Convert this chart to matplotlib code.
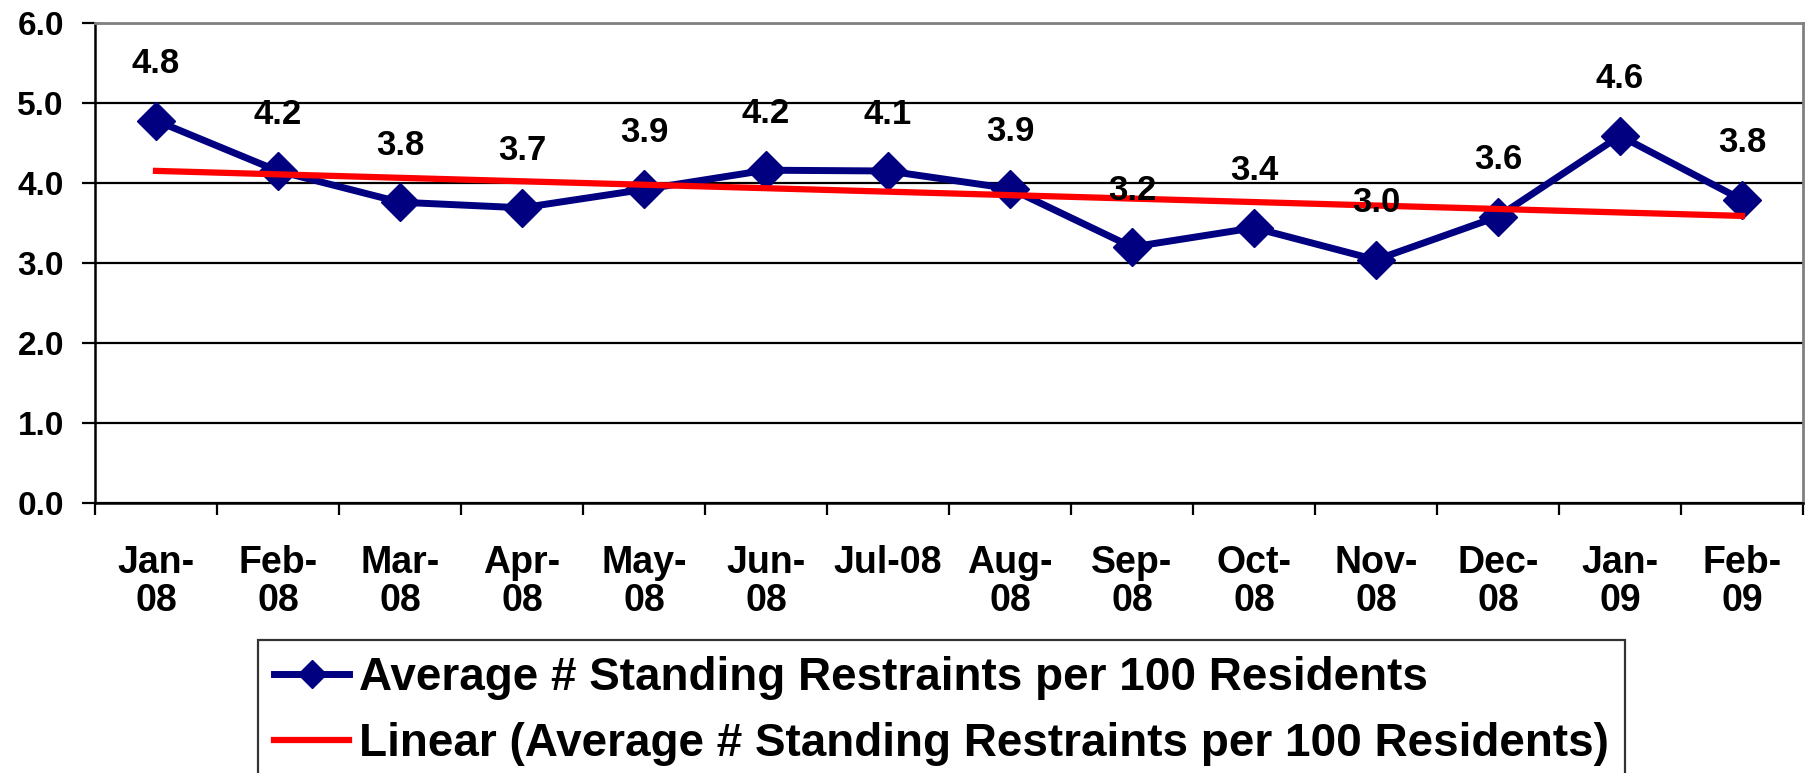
import numpy as np
import matplotlib
matplotlib.use("Agg")
import matplotlib.pyplot as plt

# -------------------------------
# Data
# -------------------------------
months = ["Jan-\n08", "Feb-\n08", "Mar-\n08", "Apr-\n08", "May-\n08", "Jun-\n08", "Jul-08",
          "Aug-\n08", "Sep-\n08", "Oct-\n08", "Nov-\n08", "Dec-\n08", "Jan-\n09", "Feb-\n09"]
restraints = [4.78, 4.15, 3.76, 3.69, 3.92, 4.16, 4.15, 3.93, 3.20, 3.44, 3.04, 3.58, 4.59, 3.79]
point_labels = ["4.8", "4.2", "3.8", "3.7", "3.9", "4.2", "4.1", "3.9", "3.2", "3.4", "3.0", "3.6", "4.6", "3.8"]
series_name = "Average # Standing Restraints per 100 Residents"

plt.rcParams["font.family"] = ["Liberation Sans", "DejaVu Sans"]
plt.rcParams["font.weight"] = "bold"

# linear trend of the series (Excel-style trendline)
x = np.arange(len(months))
slope, intercept = np.polyfit(x, restraints, 1)
trend = slope * x + intercept

fig = plt.figure(figsize=(18.11, 7.73), dpi=100)
ax = fig.add_axes([95 / 1811, 1 - 503 / 773, 1708 / 1811, 480 / 773])

ax.plot(x, restraints, color="#000080", lw=5, marker="D", ms=19, zorder=3, label=series_name)
ax.plot(x, trend, color="#ff0000", lw=4.5, zorder=4, label="Linear (" + series_name + ")")

# data labels above each point
for xi, yi, lab in zip(x, restraints, point_labels):
    ax.annotate(lab, (xi, yi), xytext=(0, 41), textcoords="offset points",
                ha="center", va="center", fontsize=25, fontweight="bold", zorder=6)

# -------------------------------
# Axes styling
# -------------------------------
ax.set_xlim(-0.5, len(months) - 0.5)
ax.set_ylim(0, 6)
ax.set_yticks(np.arange(0, 7, 1))
ax.set_yticklabels([f"{v:.1f}" for v in np.arange(0, 7, 1)], fontsize=24, fontweight="bold")
ax.yaxis.grid(True, color="black", lw=1.6, zorder=0)
ax.set_axisbelow(True)
ax.tick_params(axis="y", direction="out", length=9.4, width=1.6, pad=13)

ax.set_xticks(x)
ax.set_xticklabels(months, fontsize=27, fontweight="bold", va="top", linespacing=1.08)
ax.tick_params(axis="x", which="major", length=0, pad=30)
ax.set_xticks(np.arange(-0.5, len(months), 1), minor=True)
ax.tick_params(axis="x", which="minor", direction="out", length=8.6, width=1.6)

for side in ["left", "bottom"]:
    ax.spines[side].set_color("black")
    ax.spines[side].set_linewidth(1.8)
for side in ["top", "right"]:
    ax.spines[side].set_color("#808080")
    ax.spines[side].set_linewidth(2)

leg = ax.legend(loc="upper left", bbox_to_anchor=(258 / 1811, 1 - 640 / 773),
                bbox_transform=fig.transFigure, frameon=True, fancybox=False,
                prop={"family": "Liberation Sans", "weight": "bold", "size": 33},
                handlelength=1.64, handletextpad=0.22, borderaxespad=0, borderpad=0.35,
                labelspacing=0.48, markerscale=0.75)
leg.get_frame().set_edgecolor("black")
leg.get_frame().set_linewidth(1.6)

fig.savefig("out.png", dpi=100)
